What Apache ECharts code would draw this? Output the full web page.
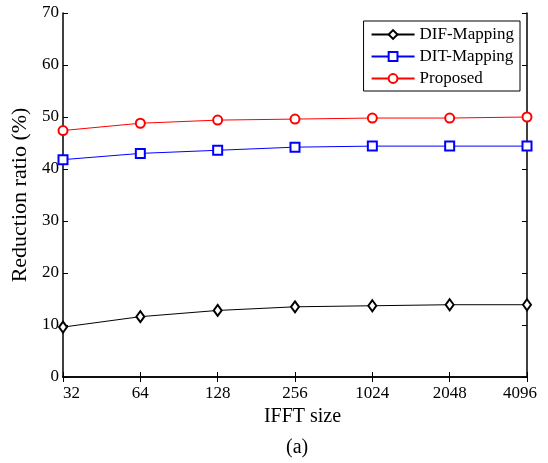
<!DOCTYPE html>
<html>
<head>
<meta charset="utf-8">
<script src="https://cdn.jsdelivr.net/npm/echarts@6/dist/echarts.min.js"></script>
<style>
  html, body { margin: 0; padding: 0; background: #fff; }
  #chart { width: 548px; height: 463px; }
</style>
</head>
<body>
<div id="chart"></div>
<script>
const fftSizes = ["32", "64", "128", "256", "1024", "2048", "4096"];
const difMapping = [9.6, 11.6, 12.8, 13.5, 13.7, 13.9, 13.9];
const ditMapping = [41.8, 43.0, 43.6, 44.2, 44.4, 44.4, 44.4];
const proposed = [47.4, 48.8, 49.4, 49.6, 49.8, 49.8, 50.0];

const font = "Liberation Serif";

const chart = echarts.init(document.getElementById("chart"));

const lineSeries = (name, data, color, symbol, size) => ({
  name,
  type: "line",
  data,
  symbol,
  symbolSize: size,
  showAllSymbol: true,
  lineStyle: { color, width: 1 },
  itemStyle: { color, borderWidth: 1 },
  animation: false,
});

// last label sits a bit left of its tick, like the original figure
const lastIdx = fftSizes.length - 1;
const xLabelFormatter = (v, i) => (i === lastIdx ? "{last|" + v + "}" : v);

chart.setOption({
  backgroundColor: "#fff",
  textStyle: { fontFamily: font },
  grid: { left: 63, top: 13, right: 21, bottom: 86 },
  legend: {
    right: 28,
    top: 21,
    orient: "vertical",
    backgroundColor: "#fff",
    borderColor: "#000",
    borderWidth: 1,
    borderRadius: 0,
    padding: [5, 6, 4, 7],
    itemGap: 5,
    itemWidth: 43,
    itemHeight: 11,
    textStyle: { fontFamily: font, fontSize: 17, color: "#000" },
    data: ["DIF-Mapping", "DIT-Mapping", "Proposed"],
  },
  xAxis: [
    {
      type: "category",
      data: fftSizes,
      boundaryGap: false,
      name: "IFFT size",
      nameLocation: "middle",
      nameGap: 26,
      nameTextStyle: { fontFamily: font, fontSize: 20, color: "#000", padding: [0, 0, 0, 15] },
      axisLine: { lineStyle: { color: "#000", width: 1.5 } },
      axisTick: { inside: true, length: 5, interval: 0, lineStyle: { color: "#000" } },
      axisLabel: {
        interval: 0,
        hideOverlap: false,
        fontFamily: font,
        fontSize: 17,
        color: "#000",
        margin: 8,
        alignMinLabel: "left",
        formatter: xLabelFormatter,
        rich: { last: { fontFamily: font, fontSize: 17, color: "#000", padding: [0, 14, 0, 0] } },
      },
      splitLine: { show: false },
    },
    {
      type: "category",
      data: fftSizes,
      boundaryGap: false,
      position: "top",
      axisLine: { lineStyle: { color: "#000", width: 1.5 } },
      axisTick: { inside: true, length: 5, interval: 0, lineStyle: { color: "#000" } },
      axisLabel: { show: false },
    },
  ],
  yAxis: [
    {
      type: "value",
      min: 0,
      max: 70,
      interval: 10,
      name: "Reduction ratio (%)",
      nameLocation: "middle",
      nameGap: 28,
      nameTextStyle: { fontFamily: font, fontSize: 22, color: "#000" },
      axisLine: { show: true, lineStyle: { color: "#000", width: 1.5 } },
      axisTick: { show: true, inside: true, length: 5, lineStyle: { color: "#000" } },
      axisLabel: { fontFamily: font, fontSize: 17, color: "#000", margin: 4 },
      splitLine: { show: false },
    },
    {
      type: "value",
      min: 0,
      max: 70,
      interval: 10,
      position: "right",
      axisLine: { show: true, lineStyle: { color: "#000", width: 1.5 } },
      axisTick: { show: true, inside: true, length: 5, lineStyle: { color: "#000" } },
      axisLabel: { show: false },
      splitLine: { show: false },
    },
  ],
  series: [
    lineSeries("DIF-Mapping", difMapping, "#000", "emptyDiamond", [8, 11]),
    lineSeries("DIT-Mapping", ditMapping, "#0000ff", "emptyRect", 9),
    lineSeries("Proposed", proposed, "#ff0000", "emptyCircle", 9),
  ],
  graphic: [
    {
      type: "text",
      left: 286,
      top: 438,
      style: { text: "(a)", fontFamily: font, fontSize: 20, fill: "#000" },
    },
  ],
});
</script>
</body>
</html>
